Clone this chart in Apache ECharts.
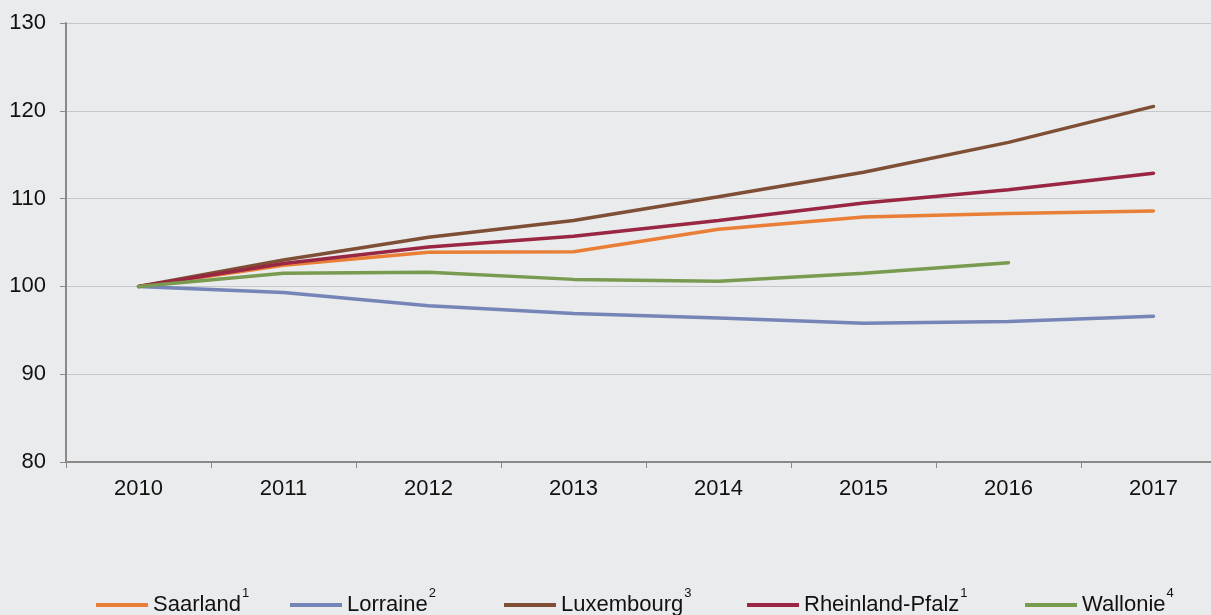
<!DOCTYPE html>
<html>
<head>
<meta charset="utf-8">
<script src="https://cdn.jsdelivr.net/npm/echarts@6/dist/echarts.min.js"></script>
<style>
html,body{margin:0;padding:0;background:#EAEBED;overflow:hidden;}
#wrap{width:1211px;height:615px;overflow:hidden;}
#c{width:1226px;height:615px;}
</style>
</head>
<body>
<div id="wrap"><div id="c"></div></div>
<script>
const years = ['2010','2011','2012','2013','2014','2015','2016','2017'];
const yTicks = [80, 90, 100, 110, 120, 130];
const seriesNames = ['Saarland', 'Lorraine', 'Luxembourg', 'Rheinland-Pfalz', 'Wallonie'];
const superscripts = ['1', '2', '3', '1', '4'];
const saarland = [100, 102.4, 103.9, 103.95, 106.5, 107.9, 108.3, 108.6];
const lorraine = [100, 99.3, 97.8, 96.9, 96.4, 95.8, 96.0, 96.6];
const luxembourg = [100, 103.0, 105.6, 107.5, 110.2, 113.0, 116.4, 120.5];
const rheinlandPfalz = [100, 102.6, 104.5, 105.7, 107.5, 109.5, 111.0, 112.9];
const wallonie = [100, 101.5, 101.6, 100.8, 100.6, 101.5, 102.7, null];
const colors = ['#E97F36', '#7585B7', '#7F4F35', '#992643', '#789B50'];

const values = [saarland, lorraine, luxembourg, rheinlandPfalz, wallonie];
const legendLeft = [96, 290, 504, 747, 1025];

const chart = echarts.init(document.getElementById('c'), null, {renderer: 'canvas'});
const font = '"Liberation Sans", Arial, sans-serif';

const legends = seriesNames.map((n, i) => ({
  data: [{name: n, icon: 'rect', itemStyle: {color: colors[i]}}],
  left: legendLeft[i],
  top: 587,
  itemWidth: 52,
  itemHeight: 4,
  itemGap: 0,
  padding: 0,
  formatter: name => '{t|' + name + '}{s|' + superscripts[seriesNames.indexOf(name)] + '}',
  textStyle: {
    fontFamily: font,
    color: '#111',
    rich: {
      t: {fontFamily: font, fontSize: 22, color: '#111', lineHeight: 36, verticalAlign: 'middle'},
      s: {fontFamily: font, fontSize: 13, color: '#111', verticalAlign: 'top', padding: [0, 0, 0, 1]}
    }
  }
}));

chart.setOption({
  backgroundColor: '#EAEBED',
  animation: false,
  color: colors,
  legend: legends,
  grid: {left: 66, right: 0, top: 23, bottom: 153, containLabel: false},
  xAxis: {
    type: 'category',
    data: years,
    boundaryGap: true,
    axisLine: {lineStyle: {color: '#898989', width: 2}},
    axisTick: {show: true, length: 6, lineStyle: {color: '#898989', width: 1}},
    axisLabel: {fontFamily: font, fontSize: 22, color: '#111', margin: 16}
  },
  yAxis: {
    type: 'value',
    min: yTicks[0],
    max: yTicks[yTicks.length - 1],
    interval: 10,
    axisLine: {show: true, lineStyle: {color: '#898989', width: 2}},
    axisTick: {show: true, length: 6, lineStyle: {color: '#898989', width: 1}},
    axisLabel: {fontFamily: font, fontSize: 22, color: '#111', margin: 20},
    splitLine: {lineStyle: {color: '#C6C7C9', width: 1}}
  },
  series: seriesNames.map((n, i) => ({
    name: n,
    type: 'line',
    data: values[i],
    symbol: 'none',
    smooth: false,
    lineStyle: {width: 3.5, color: colors[i], cap: 'round'},
    itemStyle: {color: colors[i]},
    connectNulls: false
  }))
});
</script>
</body>
</html>
